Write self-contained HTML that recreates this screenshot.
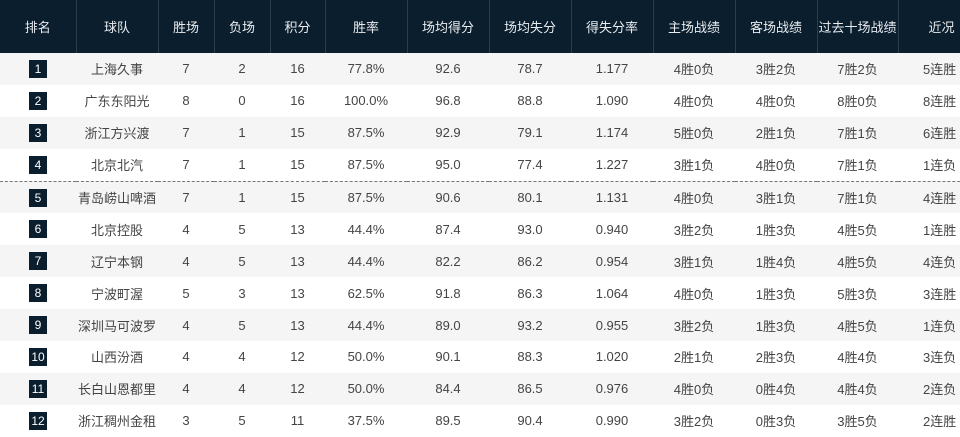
<!DOCTYPE html><html><head><meta charset="utf-8"><style>
body{margin:0;width:960px;height:432px;overflow:hidden;background:#fff;font-family:"Liberation Sans","Noto Sans CJK SC",sans-serif;}
table{border-collapse:collapse;table-layout:fixed;width:980px;}
th{background:#0b1e2e;color:#e8ecef;font-weight:normal;font-size:13px;height:53px;border-left:1px solid #2a3d4d;padding:0;}
th:first-child{border-left:none}
td{height:31.9px;padding:0;text-align:center;font-size:13px;color:#444;}
tr:nth-child(even) td{background:#f5f5f5}
tr.sep td{border-top:1px dashed #777}
.b{display:inline-block;width:18px;height:18px;line-height:18px;background:#0b1e2e;color:#fff;font-size:12px;}
</style></head><body><table>
<colgroup><col style="width:76px"><col style="width:82px"><col style="width:56px"><col style="width:56px"><col style="width:55px"><col style="width:82px"><col style="width:82px"><col style="width:82px"><col style="width:82px"><col style="width:82px"><col style="width:82px"><col style="width:81px"><col style="width:82px"></colgroup>
<tr><th>排名</th><th>球队</th><th>胜场</th><th>负场</th><th>积分</th><th>胜率</th><th>场均得分</th><th>场均失分</th><th>得失分率</th><th>主场战绩</th><th>客场战绩</th><th>过去十场战绩</th><th style="text-align:left;padding-left:30px">近况</th></tr>
<tr><td><span class="b">1</span></td><td>上海久事</td><td>7</td><td>2</td><td>16</td><td>77.8%</td><td>92.6</td><td>78.7</td><td>1.177</td><td>4胜0负</td><td>3胜2负</td><td>7胜2负</td><td style="text-align:left;padding-left:25px">5连胜</td></tr>
<tr><td><span class="b">2</span></td><td>广东东阳光</td><td>8</td><td>0</td><td>16</td><td>100.0%</td><td>96.8</td><td>88.8</td><td>1.090</td><td>4胜0负</td><td>4胜0负</td><td>8胜0负</td><td style="text-align:left;padding-left:25px">8连胜</td></tr>
<tr><td><span class="b">3</span></td><td>浙江方兴渡</td><td>7</td><td>1</td><td>15</td><td>87.5%</td><td>92.9</td><td>79.1</td><td>1.174</td><td>5胜0负</td><td>2胜1负</td><td>7胜1负</td><td style="text-align:left;padding-left:25px">6连胜</td></tr>
<tr><td><span class="b">4</span></td><td>北京北汽</td><td>7</td><td>1</td><td>15</td><td>87.5%</td><td>95.0</td><td>77.4</td><td>1.227</td><td>3胜1负</td><td>4胜0负</td><td>7胜1负</td><td style="text-align:left;padding-left:25px">1连负</td></tr>
<tr class="sep"><td><span class="b">5</span></td><td>青岛崂山啤酒</td><td>7</td><td>1</td><td>15</td><td>87.5%</td><td>90.6</td><td>80.1</td><td>1.131</td><td>4胜0负</td><td>3胜1负</td><td>7胜1负</td><td style="text-align:left;padding-left:25px">4连胜</td></tr>
<tr><td><span class="b">6</span></td><td>北京控股</td><td>4</td><td>5</td><td>13</td><td>44.4%</td><td>87.4</td><td>93.0</td><td>0.940</td><td>3胜2负</td><td>1胜3负</td><td>4胜5负</td><td style="text-align:left;padding-left:25px">1连胜</td></tr>
<tr><td><span class="b">7</span></td><td>辽宁本钢</td><td>4</td><td>5</td><td>13</td><td>44.4%</td><td>82.2</td><td>86.2</td><td>0.954</td><td>3胜1负</td><td>1胜4负</td><td>4胜5负</td><td style="text-align:left;padding-left:25px">4连负</td></tr>
<tr><td><span class="b">8</span></td><td>宁波町渥</td><td>5</td><td>3</td><td>13</td><td>62.5%</td><td>91.8</td><td>86.3</td><td>1.064</td><td>4胜0负</td><td>1胜3负</td><td>5胜3负</td><td style="text-align:left;padding-left:25px">3连胜</td></tr>
<tr><td><span class="b">9</span></td><td>深圳马可波罗</td><td>4</td><td>5</td><td>13</td><td>44.4%</td><td>89.0</td><td>93.2</td><td>0.955</td><td>3胜2负</td><td>1胜3负</td><td>4胜5负</td><td style="text-align:left;padding-left:25px">1连负</td></tr>
<tr><td><span class="b">10</span></td><td>山西汾酒</td><td>4</td><td>4</td><td>12</td><td>50.0%</td><td>90.1</td><td>88.3</td><td>1.020</td><td>2胜1负</td><td>2胜3负</td><td>4胜4负</td><td style="text-align:left;padding-left:25px">3连负</td></tr>
<tr><td><span class="b">11</span></td><td>长白山恩都里</td><td>4</td><td>4</td><td>12</td><td>50.0%</td><td>84.4</td><td>86.5</td><td>0.976</td><td>4胜0负</td><td>0胜4负</td><td>4胜4负</td><td style="text-align:left;padding-left:25px">2连负</td></tr>
<tr><td><span class="b">12</span></td><td>浙江稠州金租</td><td>3</td><td>5</td><td>11</td><td>37.5%</td><td>89.5</td><td>90.4</td><td>0.990</td><td>3胜2负</td><td>0胜3负</td><td>3胜5负</td><td style="text-align:left;padding-left:25px">2连胜</td></tr>
</table></body></html>
